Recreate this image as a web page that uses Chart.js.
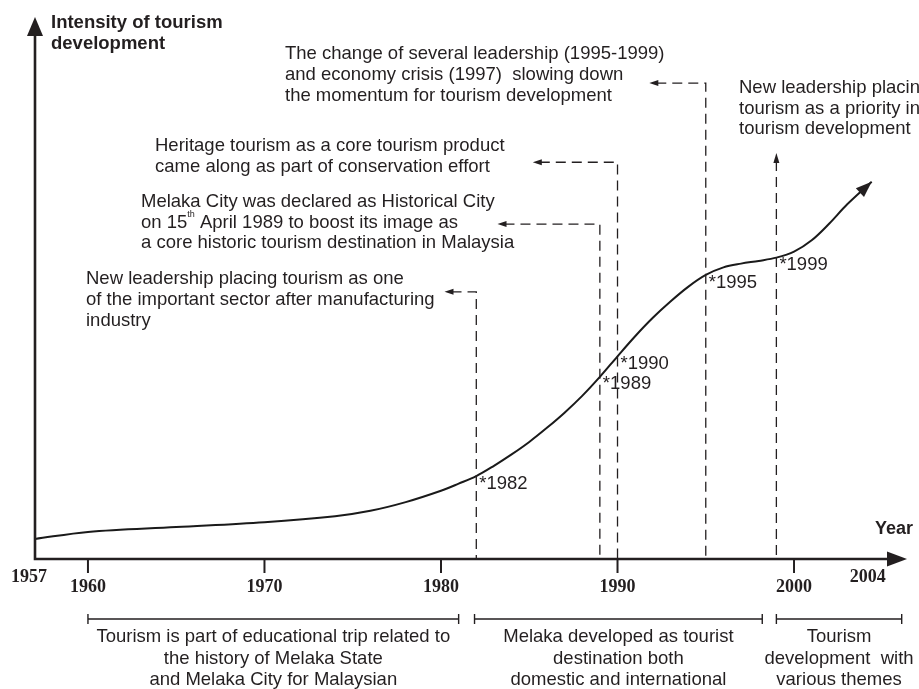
<!DOCTYPE html>
<html>
<head>
<meta charset="utf-8">
<script src="https://cdn.jsdelivr.net/npm/chart.js@4.4.1/dist/chart.umd.min.js"></script>
<style>
    html, body { margin: 0; padding: 0; background: #fff; }
    #wrap { width: 919px; height: 689px; }
</style>
</head>
<body>
<div id="wrap"><canvas id="tourismChart" width="919" height="689"></canvas></div>
<script>
// curve (intensity in arbitrary 0-100 units)
const curveYears = [1957, 1960, 1965, 1970, 1974, 1976, 1978, 1980, 1981, 1982, 1983, 1984, 1985, 1986, 1987, 1988, 1989, 1990,
    1991, 1992, 1993, 1994, 1995, 1996, 1997, 1998, 1999, 2000, 2001, 2002, 2003, 2004.4];
const intensity = [3.7, 5.0, 5.9, 6.8, 7.9, 8.9, 10.5, 12.6, 13.9, 15.3, 17.2, 19.3, 21.6, 24.2, 27.0, 30.1, 33.6, 37.4,
    41.1, 44.5, 47.5, 50.2, 52.4, 53.8, 54.5, 55.0, 55.6, 56.7, 58.8, 61.9, 65.4, 69.6];

const tickYears = [1960, 1970, 1980, 1990, 2000];
const endYears = [1957, 2004];

const eventYears = [1982, 1989, 1990, 1995, 1999];
const eventTops = [49.3, 61.8, 73.2, 87.8, 74.9];
const eventArrowTo = [1980.2, 1983.2, 1985.2, 1991.8, null];

const periodStarts = [1960, 1981.9, 1999.0];
const periodEnds = [1981.0, 1998.2, 2006.1];
const periodTexts = [
    ["Tourism is part of educational trip related to", "the history of Melaka State", "and Melaka City for Malaysian"],
    ["Melaka developed as tourist", "destination both", "domestic and international"],
    ["Tourism", "development  with", "various themes"]
];

const noteTexts = [
    ["The change of several leadership (1995-1999)", "and economy crisis (1997)  slowing down", "the momentum for tourism development"],
    ["Heritage tourism as a core tourism product", "came along as part of conservation effort"],
    ["Melaka City was declared as Historical City", "on 15^th^ April 1989 to boost its image as", "a core historic tourism destination in Malaysia"],
    ["New leadership placing tourism as one", "of the important sector after manufacturing", "industry"],
    ["New leadership placing", "tourism as a priority in", "tourism development"]
];

const yTitle = ["Intensity of tourism", "development"];
const xTitle = "Year";

document.addEventListener("DOMContentLoaded", function () {
    const ink = "#231f20";
    const sans = "\"Liberation Sans\", Arial, sans-serif";
    const serif = "\"Liberation Serif\", \"Times New Roman\", serif";

    function arrow(ctx, x, y, dx, dy, len, half) {
        const bx = x - dx * len, by = y - dy * len;
        ctx.beginPath();
        ctx.moveTo(x, y);
        ctx.lineTo(bx - dy * half, by + dx * half);
        ctx.lineTo(bx + dy * half, by - dx * half);
        ctx.closePath();
        ctx.fill();
    }

    // text with ^sup^ parts
    function richText(ctx, text, x, y) {
        const parts = text.split("^");
        let cx = x;
        parts.forEach((p, i) => {
            if (i % 2 === 1) {
                ctx.font = "9px " + sans;
                ctx.fillText(p, cx, y - 8);
            } else {
                ctx.font = "18.5px " + sans;
                ctx.fillText(p, cx, y);
            }
            cx += ctx.measureText(p).width;
        });
        ctx.font = "18.5px " + sans;
    }

    const notePos = [
        { x: 285, y: 54, lh: 21 },
        { x: 155, y: 146, lh: 21 },
        { x: 141, y: 202, lh: 20.7 },
        { x: 86, y: 279, lh: 21 },
        { x: 739, y: 88, lh: 20.7 }
    ];

    const sketch = {
        id: "sketch",
        afterDatasetsDraw(chart) {
            const ctx = chart.ctx;
            const xs = chart.scales.x, ys = chart.scales.y;
            const area = chart.chartArea;
            const y0 = ys.getPixelForValue(0);
            const x0 = xs.getPixelForValue(1957);

            ctx.save();
            ctx.strokeStyle = ink;
            ctx.fillStyle = ink;

            // axes with arrows
            ctx.lineWidth = 2.6;
            ctx.beginPath();
            ctx.moveTo(x0, y0 + 1.3);
            ctx.lineTo(x0, area.top + 14);
            ctx.moveTo(x0, y0);
            ctx.lineTo(area.right - 14, y0);
            ctx.stroke();
            arrow(ctx, x0, area.top, 0, -1, 19, 8);
            arrow(ctx, area.right, y0, 1, 0, 20, 7.5);

            // ticks
            ctx.lineWidth = 2;
            tickYears.forEach((yr) => {
                const tx = xs.getPixelForValue(yr);
                ctx.beginPath();
                ctx.moveTo(tx, y0);
                ctx.lineTo(tx, y0 + 14);
                ctx.stroke();
            });

            ctx.font = "bold 18px " + serif;
            ctx.textAlign = "center";
            ctx.textBaseline = "middle";
            tickYears.forEach((yr) => ctx.fillText(String(yr), xs.getPixelForValue(yr), y0 + 28));
            ctx.fillText(String(endYears[0]), xs.getPixelForValue(endYears[0]) - 6, y0 + 18);
            ctx.fillText(String(endYears[1]), xs.getPixelForValue(endYears[1]) + 3, y0 + 18);

            // axis titles
            ctx.font = "bold 18.5px " + sans;
            ctx.textAlign = "left";
            yTitle.forEach((t, i) => ctx.fillText(t, x0 + 16, 23 + i * 21));
            ctx.font = "bold 18px " + sans;
            ctx.fillText(xTitle, 875, y0 - 30);

            // curve arrowhead
            const pts = chart.getDatasetMeta(0).data;
            const last = pts[pts.length - 1];
            const px = last.cp1x !== undefined ? last.cp1x : pts[pts.length - 2].x;
            const py = last.cp1y !== undefined ? last.cp1y : pts[pts.length - 2].y;
            const d = Math.hypot(last.x - px, last.y - py) || 1;
            arrow(ctx, last.x, last.y, (last.x - px) / d, (last.y - py) / d, 16, 6);

            // dashed leader lines
            ctx.lineWidth = 1.3;
            ctx.setLineDash([10, 6]);
            eventYears.forEach((yr, i) => {
                const ex = xs.getPixelForValue(yr);
                const top = ys.getPixelForValue(eventTops[i]);
                ctx.beginPath();
                if (eventArrowTo[i] !== null) {
                    const tx = xs.getPixelForValue(eventArrowTo[i]);
                    ctx.moveTo(tx + 7, top);
                    ctx.lineTo(ex, top);
                    ctx.lineTo(ex, y0);
                } else {
                    ctx.moveTo(ex, top + 8);
                    ctx.lineTo(ex, y0);
                }
                ctx.stroke();
            });
            ctx.setLineDash([]);
            eventYears.forEach((yr, i) => {
                const ex = xs.getPixelForValue(yr);
                const top = ys.getPixelForValue(eventTops[i]);
                if (eventArrowTo[i] !== null) {
                    arrow(ctx, xs.getPixelForValue(eventArrowTo[i]), top, -1, 0, 9, 3);
                } else {
                    arrow(ctx, ex, top, 0, -1, 10, 3);
                }
            });

            // event labels next to the curve
            ctx.font = "18.5px " + sans;
            ctx.textAlign = "left";
            eventYears.forEach((yr) => {
                const k = curveYears.indexOf(yr);
                const cy = ys.getPixelForValue(intensity[k]);
                ctx.fillText("*" + yr, xs.getPixelForValue(yr) + 3, cy + 7.5);
            });

            // notes
            noteTexts.forEach((lines, i) => {
                const p = notePos[i];
                lines.forEach((l, j) => richText(ctx, l, p.x, p.y + j * p.lh));
            });

            // period brackets
            const by = y0 + 60;
            ctx.lineWidth = 1.4;
            periodStarts.forEach((s, i) => {
                const a = xs.getPixelForValue(s), b = xs.getPixelForValue(periodEnds[i]);
                ctx.beginPath();
                ctx.moveTo(a, by);
                ctx.lineTo(b, by);
                ctx.moveTo(a, by - 5);
                ctx.lineTo(a, by + 5);
                ctx.moveTo(b, by - 5);
                ctx.lineTo(b, by + 5);
                ctx.stroke();
                ctx.textAlign = "center";
                periodTexts[i].forEach((t, j) => ctx.fillText(t, (a + b) / 2, by + 18 + j * 21.5));
            });

            ctx.restore();
        }
    };

    const ctx = document.getElementById("tourismChart").getContext("2d");

    new Chart(ctx, {
        type: "line",
        data: {
            datasets: [
                {
                    label: "Intensity of tourism development",
                    data: curveYears.map((yr, i) => ({ x: yr, y: intensity[i] })),
                    borderColor: "#1a1a1a",
                    borderWidth: 2,
                    pointRadius: 0,
                    fill: false,
                    tension: 0.35
                }
            ]
        },
        options: {
            responsive: false,
            devicePixelRatio: 1,
            animation: false,
            events: [],
            layout: { padding: { left: 35, right: 12, top: 17, bottom: 130 } },
            plugins: {
                legend: { display: false },
                tooltip: { enabled: false }
            },
            scales: {
                x: { type: "linear", min: 1957, max: 2006.4, display: false },
                y: { min: 0, max: 100, display: false }
            }
        },
        plugins: [sketch]
    });
});
</script>
</body>
</html>
